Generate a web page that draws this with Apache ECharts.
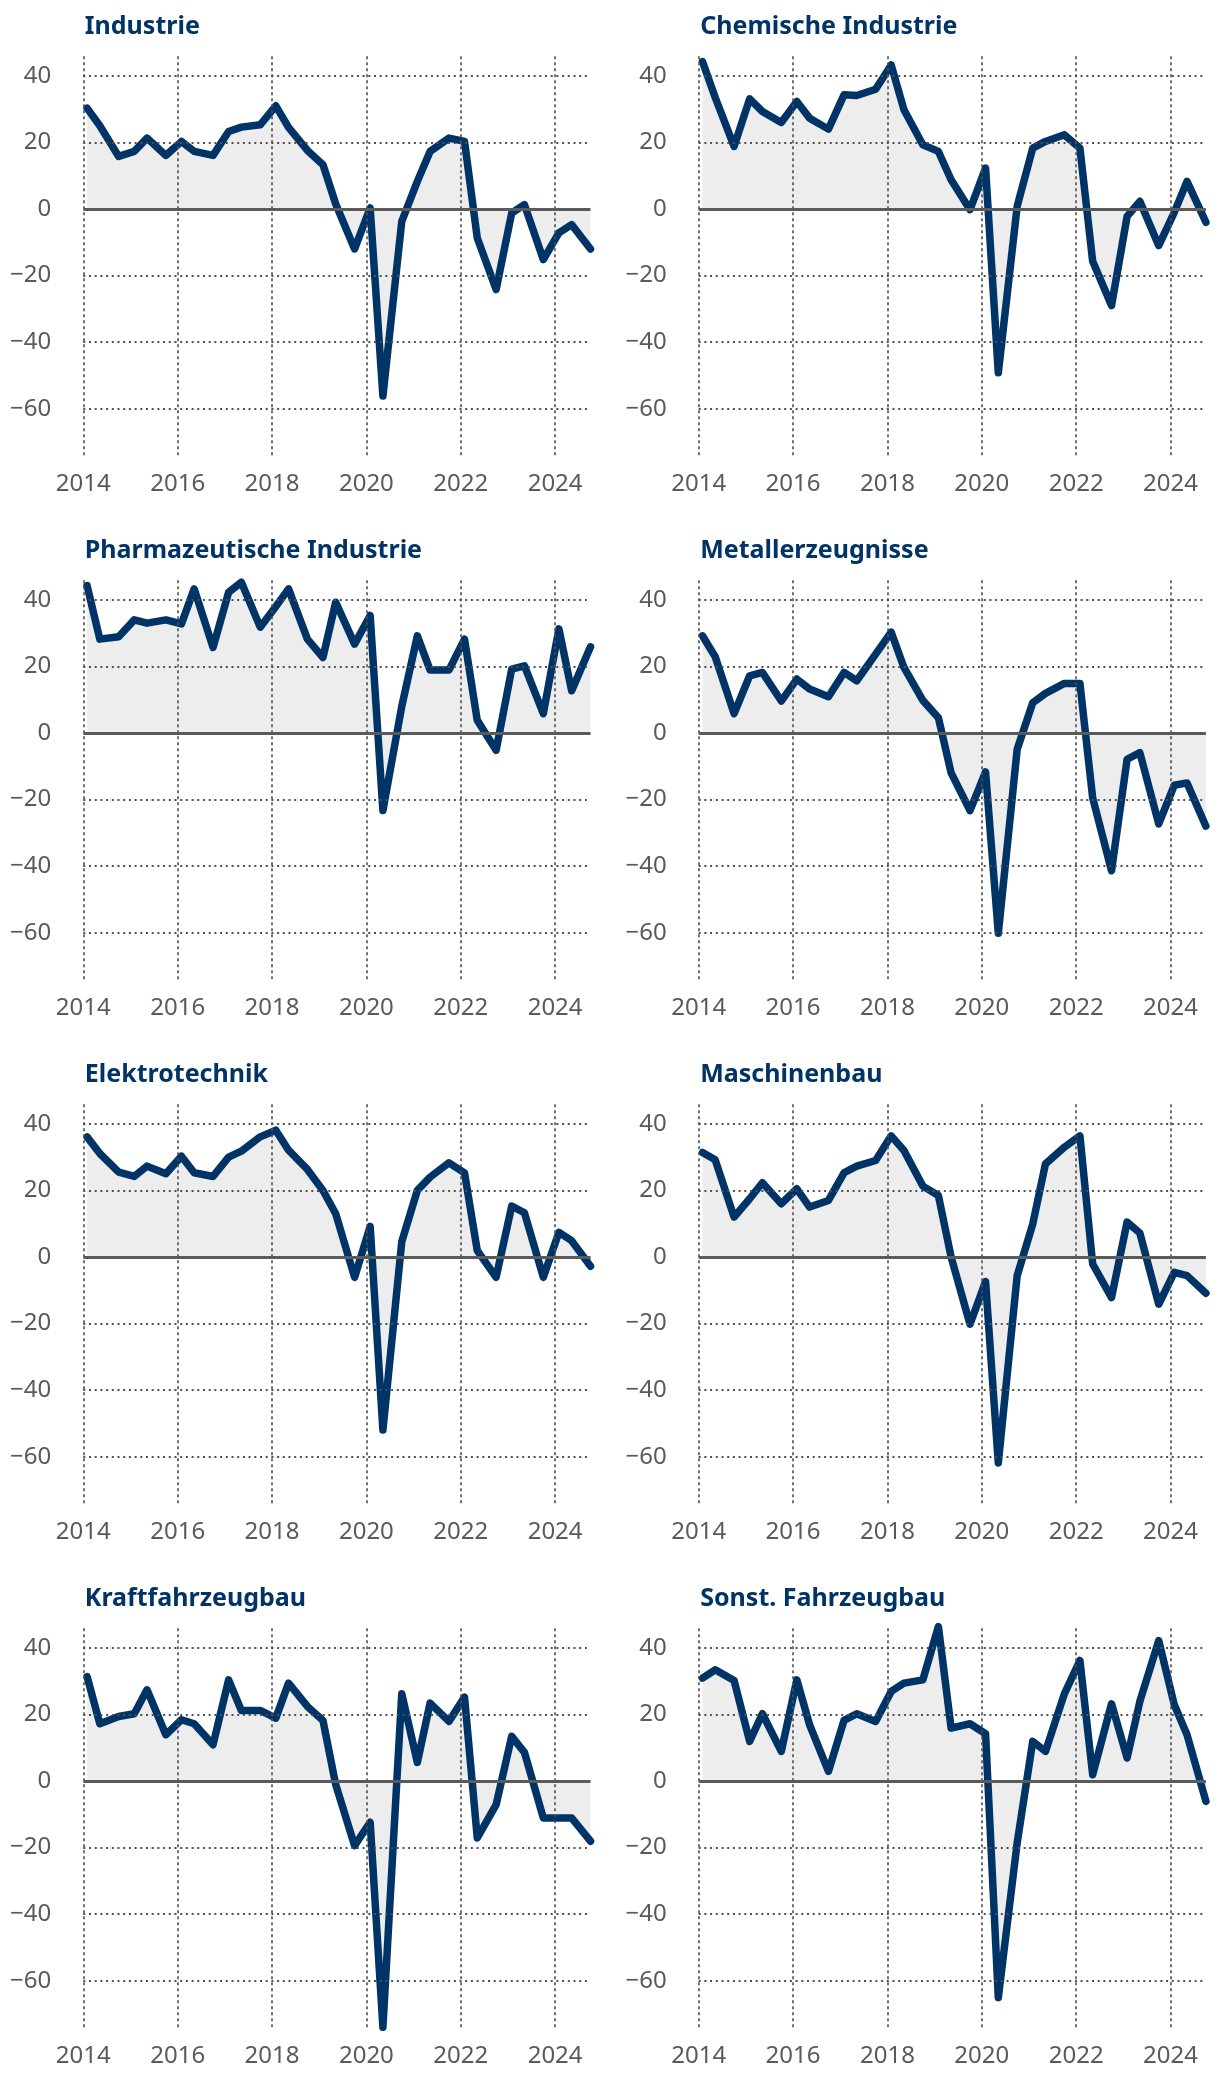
<!DOCTYPE html>
<html>
<head>
<meta charset="utf-8">
<script src="https://cdn.jsdelivr.net/npm/echarts@6/dist/echarts.min.js"></script>
<style>
  html, body { margin: 0; padding: 0; background: #ffffff; }
  #chart { width: 1220px; height: 2086px; }
</style>
</head>
<body>
<div id="chart"></div>
<script>
// ---- data (survey dates: start of year, early summer, autumn) ----
const surveyDates = [
  2014.08, 2014.35, 2014.75, 2015.08, 2015.35, 2015.75, 2016.08, 2016.35, 2016.75,
  2017.08, 2017.35, 2017.75, 2018.08, 2018.35, 2018.75, 2019.08, 2019.35, 2019.75,
  2020.08, 2020.35, 2020.75, 2021.08, 2021.35, 2021.75, 2022.08, 2022.35, 2022.75,
  2023.08, 2023.35, 2023.75, 2024.08, 2024.35, 2024.75
];
const yearTicks = [2014, 2016, 2018, 2020, 2022, 2024];
const valueTicks = [40, 20, -20, -40, -60];

const industrie = [30.3, 25, 15.8, 17.3, 21.3, 16.1, 20.3, 17.3, 16.1, 23.3, 24.6, 25.3, 31, 24.5, 17.6, 13.3, 1.5, -12, 0.3, -56.2, -3.7, 8.3, 17.3, 21.3, 20.3, -8.7, -24.2, -1.2, 1.3, -15.2, -7.2, -4.7, -12];
const chemie = [44.3, 33.5, 18.8, 33.1, 29.3, 26, 32.3, 27.3, 24, 34.3, 34.1, 36, 43.3, 29.8, 19.3, 17.3, 8.8, -0.2, 12.3, -49.2, 0.8, 18.3, 20.3, 22.3, 18.3, -15.7, -29, -2.2, 2.3, -11, -1, 8.3, -4];
const pharma = [44.3, 28.2, 28.9, 34, 33, 34, 32.8, 43.3, 25.7, 42.3, 45.3, 31.8, 38, 43.3, 28.2, 22.7, 39.3, 26.7, 35.3, -23.3, 8, 29.2, 18.9, 18.9, 28.2, 3.8, -5.2, 19.2, 20.2, 5.8, 31.3, 12.7, 25.9];
const metall = [29.2, 22.9, 5.8, 17.2, 18.2, 9.6, 16.2, 13.2, 10.9, 18.2, 15.7, 23.7, 30.3, 19.7, 9.8, 4.6, -12, -23.3, -11.7, -60.2, -4.9, 9.1, 11.9, 14.9, 14.9, -19.5, -41.4, -7.9, -5.9, -27.3, -15.7, -15, -28];
const elektro = [36.1, 31.1, 25.5, 24.2, 27.3, 25, 30.3, 25.3, 24.2, 30, 31.8, 36.1, 38.1, 32.1, 26.3, 20, 13, -6.1, 9.2, -52, 4.6, 20, 24, 28.3, 25.3, 1.9, -6.1, 15.3, 13.3, -6.1, 7.4, 4.9, -2.8];
const maschinen = [31.4, 29.2, 12, 17.5, 22.3, 16, 20.5, 15, 17, 25.3, 27.3, 29, 36.4, 32, 21.3, 18.5, 0, -20.2, -7.4, -61.9, -5.6, 9.9, 28, 33, 36.4, -2.1, -12.2, 10.5, 7.2, -14.2, -4.6, -5.6, -10.9];
const kfz = [31.4, 17.2, 19.4, 20.2, 27.4, 13.9, 18.4, 17.2, 10.9, 30.4, 21.2, 21.2, 18.9, 29.4, 22.4, 18.2, -1.1, -19.4, -12.4, -74, 26.2, 5.6, 23.4, 17.9, 25.2, -17.1, -7.1, 13.4, 8.6, -11.1, -11.1, -11.1, -18.1];
const sonst = [30.9, 33.4, 30.2, 11.9, 20.2, 8.9, 30.4, 16.9, 2.9, 18.2, 20.2, 17.9, 26.9, 29.4, 30.4, 46.4, 15.9, 17.2, 14.2, -65.1, -18.6, 11.9, 8.9, 26.2, 36.2, 1.9, 23.2, 6.9, 23.9, 42.2, 22.9, 13.9, -6.1];

const titles = ['Industrie', 'Chemische Industrie', 'Pharmazeutische Industrie', 'Metallerzeugnisse',
                'Elektrotechnik', 'Maschinenbau', 'Kraftfahrzeugbau', 'Sonst. Fahrzeugbau'];
const seriesValues = [industrie, chemie, pharma, metall, elektro, maschinen, kfz, sonst];

// ---- layout ----
const NAVY = '#003366';
const FONT = '"Noto Sans", "Open Sans", sans-serif';
const colLeft = [83.3, 698.7];
const gridW = 507.2;
const rowTop = [54.25, 578.25, 1102.25, 1626.25];
const gridH = 401;
const Y_MIN = -74, Y_MAX = 46.5;

const grids = [], xAxes = [], yAxes = [], series = [], titleList = [];

function fmtNum(v) {
  return v < 0 ? '\u2212' + Math.abs(v) : String(v);
}

titles.forEach((t, i) => {
  const c = i % 2, r = Math.floor(i / 2);
  grids.push({ left: colLeft[c], top: rowTop[r], width: gridW, height: gridH, containLabel: false });
  titleList.push({
    text: t, left: colLeft[c] + 1.5, top: rowTop[r] - 39.5,
    textStyle: { fontFamily: FONT, fontWeight: 'bold', fontSize: 25, color: NAVY, lineHeight: 25 },
    padding: 0
  });
  xAxes.push({
    gridIndex: i, type: 'value', min: 2014, max: 2024.75, interval: 2,
    axisLine: { show: false }, axisTick: { show: false }, splitLine: { show: false },
    axisLabel: {
      show: true, margin: 17, fontFamily: FONT, fontSize: 24, color: '#5a5a5a', lineHeight: 24,
      showMaxLabel: false,
      formatter: v => (Number.isInteger(v) && v % 2 === 0) ? String(v) : ''
    }
  });
  yAxes.push({
    gridIndex: i, type: 'value', min: Y_MIN, max: Y_MAX, interval: 2,
    axisLine: { show: false }, axisTick: { show: false }, splitLine: { show: false },
    axisLabel: {
      show: true, margin: 32, fontFamily: FONT, fontSize: 24, color: '#5a5a5a',
      showMaxLabel: false,
      formatter: v => (Number.isInteger(v) && v % 20 === 0) ? fmtNum(v) : ''
    }
  });
  const pts = surveyDates.map((d, k) => [d, seriesValues[i][k]]);
  // area fill
  series.push({
    type: 'line', xAxisIndex: i, yAxisIndex: i, data: pts, symbol: 'none', silent: true,
    clip: false, z: 1,
    lineStyle: { width: 0, opacity: 0 },
    areaStyle: { color: '#ededed', opacity: 1, origin: 0 }
  });
  // gridlines + zero line
  const ml = [];
  valueTicks.forEach(v => ml.push({ yAxis: v, lineStyle: { type: [2, 3.7], width: 2, color: '#505050' } }));
  yearTicks.forEach(y => ml.push({ xAxis: y, lineStyle: { type: [3, 3], width: 1.6, color: '#505050' } }));
  ml.push({ yAxis: 0, lineStyle: { type: 'solid', width: 3, color: '#5a5a5a' } });
  series.push({
    type: 'line', xAxisIndex: i, yAxisIndex: i, data: pts, symbol: 'none', silent: true, z: 2,
    lineStyle: { width: 0, opacity: 0 },
    markLine: { silent: true, symbol: ['none', 'none'], label: { show: false }, animation: false, data: ml }
  });
  // main line
  series.push({
    type: 'line', xAxisIndex: i, yAxisIndex: i, data: pts, symbol: 'none', clip: false, z: 3,
    lineStyle: { width: 7.5, color: NAVY, cap: 'round', join: 'round' }
  });
});

const chart = echarts.init(document.getElementById('chart'), null, { renderer: 'canvas' });
chart.setOption({
  animation: false,
  backgroundColor: '#ffffff',
  title: titleList,
  grid: grids,
  xAxis: xAxes,
  yAxis: yAxes,
  series: series
});
</script>
</body>
</html>
